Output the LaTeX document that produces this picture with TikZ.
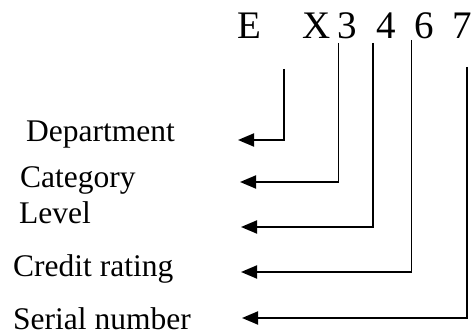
\documentclass[tikz,border=0pt]{standalone}
\usepackage{fontspec}
\setmainfont{Liberation Serif}
\usetikzlibrary{arrows.meta}
\begin{document}
\begin{tikzpicture}[x=1pt,y=-1pt,
  lab/.style={anchor=base west,inner sep=0pt,font=\fontsize{31.5}{36}\selectfont},
  top/.style={anchor=base west,inner sep=0pt,font=\fontsize{39}{44}\selectfont},
  conn/.style={line width=1.9pt,-{Triangle[length=16pt,width=13pt]}}]
\useasboundingbox (0,0) rectangle (474,336);
% code characters
\node[top] (cE) at (237,38.5) {E};
\node[top] (cX) at (302.5,38.5) {X};
\node[top] (c3) at (337.5,38.5) {3};
\node[top] (c4) at (376.5,38.5) {4};
\node[top] (c6) at (414.5,38.5) {6};
\node[top] (c7) at (452,38.5) {7};
% labels
\node[lab] (l1) at (26,142) {Department};
\node[lab] (l2) at (20,188) {Category};
\node[lab] (l3) at (19,224) {Level};
\node[lab] (l4) at (13,277) {Credit rating};
\node[lab] (l5) at (13,330) {Serial number};
% connector start points
\coordinate (s1) at (284,69);
\coordinate (s2) at (338.5,43);
\coordinate (s3) at (373,43);
\coordinate (s4) at (411.5,40);
\coordinate (s5) at (467,67);
% arrow tips
\coordinate (a1) at (238,140);
\coordinate (a2) at (240,182);
\coordinate (a3) at (241,227);
\coordinate (a4) at (241,272);
\coordinate (a5) at (242,318);
\draw[conn] (s1) |- (a1);
\draw[conn] (s2) |- (a2);
\draw[conn] (s3) |- (a3);
\draw[conn] (s4) |- (a4);
\draw[conn] (s5) |- (a5);
\end{tikzpicture}
\end{document}
